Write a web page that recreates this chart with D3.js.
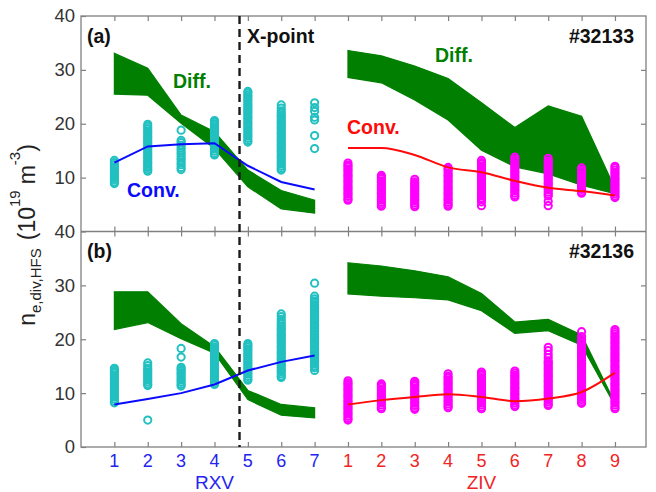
<!DOCTYPE html>
<html>
<head>
<meta charset="utf-8">
<script src="https://cdn.jsdelivr.net/npm/d3@7"></script>
<style>
  body { margin: 0; background: #fff; }
  #chart { width: 656px; height: 492px; }
  text { font-family: "Liberation Sans", Arial, Helvetica, sans-serif; }
</style>
</head>
<body>
<div id="chart"></div>
<script>
// probe names along the divertor
const rxvLabels = ["1", "2", "3", "4", "5", "6", "7"];
const zivLabels = ["1", "2", "3", "4", "5", "6", "7", "8", "9"];
const yTicksA = [10, 20, 30, 40];
const yTicksB = [0, 10, 20, 30, 40];
const xPointPos = 3.75; // X-point sits between RXV 4 and 5

// ---- shot #32133 (a) ----
const rxvDiffHiA = [33.1, 30.3, 21.6, 18.5, 11.4, 7.6, 5.8];
const rxvDiffLoA = [25.5, 25.3, 20.1, 15.4, 8.3, 4.2, 3.4];
const rxvConvA = [12.8, 15.8, 16.2, 16.4, 12.2, 9.2, 7.8];
const zivDiffHiA = [33.6, 32.6, 30.7, 28.4, 23.9, 19.3, 23.3, 21.4, 8.0];
const zivDiffLoA = [28.6, 27.6, 24.4, 20.7, 15.1, 12.0, 10.7, 8.6, 7.0];
const zivConvA = [15.5, 15.5, 14.2, 11.9, 11.0, 9.4, 8.1, 7.5, 6.7];

const rxvProbesA = [
  [8.9, 9.2, 9.6, 9.9, 10.3, 10.6, 11.0, 11.3, 11.7, 12.0, 12.4, 12.8, 13.2],
  [11.2, 11.5, 11.9, 12.2, 12.6, 12.9, 13.3, 13.7, 14.0, 14.4, 14.7, 15.1, 15.5, 15.8, 16.2, 16.5, 16.9, 17.3, 17.6, 18.0, 18.4, 18.7, 19.1, 19.5, 19.9],
  [11.5, 11.9, 12.4, 12.8, 13.3, 13.7, 14.2, 14.6, 15.1, 15.5, 16.0, 16.5, 16.9, 18.8],
  [14.2, 14.5, 14.9, 15.3, 15.6, 16.0, 16.4, 16.7, 17.1, 17.5, 17.8, 18.2, 18.6, 18.9, 19.3, 19.7, 20.0, 20.3, 20.6],
  [16.6, 16.9, 17.3, 17.7, 18.0, 18.4, 18.8, 19.1, 19.5, 19.9, 20.2, 20.6, 21.0, 21.3, 21.7, 22.1, 22.4, 22.8, 23.2, 23.5, 23.9, 24.3, 24.6, 25.0, 25.3, 25.7, 26.0],
  [11.4, 11.7, 12.1, 12.5, 12.8, 13.2, 13.6, 13.9, 14.3, 14.7, 15.0, 15.4, 15.8, 16.1, 16.5, 16.9, 17.2, 17.6, 18.0, 18.3, 18.7, 19.1, 19.4, 19.8, 20.2, 20.5, 20.9, 21.3, 21.6, 22.0, 22.4, 22.9, 23.5],
  [15.4, 17.8, 20.7, 21.2, 22.3, 23.0, 23.9]
];
const zivProbesA = [
  [5.8, 6.1, 6.5, 6.9, 7.2, 7.6, 8.0, 8.3, 8.7, 9.1, 9.4, 9.8, 10.2, 10.5, 10.9, 11.3, 11.6, 12.0, 12.3, 12.7],
  [4.7, 5.0, 5.4, 5.8, 6.1, 6.5, 6.9, 7.2, 7.6, 8.0, 8.3, 8.7, 9.1, 9.4, 9.8, 10.1, 10.4],
  [4.6, 4.9, 5.3, 5.7, 6.0, 6.4, 6.8, 7.1, 7.5, 7.9, 8.2, 8.6, 8.9, 9.2, 9.7],
  [4.7, 5.0, 5.4, 5.8, 6.1, 6.5, 6.9, 7.2, 7.6, 8.0, 8.3, 8.7, 9.1, 9.4, 9.8, 10.2, 10.5, 10.9, 11.3, 11.6, 11.9],
  [4.8, 5.5, 5.9, 6.2, 6.6, 7.0, 7.3, 7.7, 8.1, 8.4, 8.8, 9.2, 9.5, 9.9, 10.3, 10.6, 11.0, 11.4, 11.7, 12.1, 12.5, 12.8, 13.2],
  [6.4, 6.7, 7.1, 7.5, 7.8, 8.2, 8.6, 8.9, 9.3, 9.7, 10.0, 10.4, 10.8, 11.1, 11.5, 11.9, 12.2, 12.6, 13.0, 13.4, 13.8],
  [4.8, 5.6, 6.6, 6.9, 7.3, 7.7, 8.0, 8.4, 8.8, 9.1, 9.5, 9.9, 10.2, 10.6, 11.0, 11.3, 11.7, 12.1, 12.4, 12.8, 13.1, 13.6],
  [7.1, 7.4, 7.8, 8.2, 8.5, 8.9, 9.3, 9.6, 10.0, 10.4, 10.7, 11.1, 11.4, 11.8],
  [6.3, 6.6, 7.0, 7.4, 7.7, 8.1, 8.5, 8.8, 9.2, 9.6, 9.9, 10.3, 10.7, 11.0, 11.4, 11.8, 12.1]
];

// ---- shot #32136 (b) ----
const rxvDiffHiB = [28.8, 28.8, 22.9, 18.6, 10.5, 7.9, 7.3];
const rxvDiffLoB = [21.8, 23.1, 20.1, 17.4, 8.8, 5.9, 5.4];
const rxvConvB = [7.9, 8.9, 10.0, 11.6, 14.2, 15.8, 17.0];
const zivDiffHiB = [34.2, 33.6, 32.7, 31.6, 28.5, 23.2, 23.7, 20.8, 8.2];
const zivDiffLoB = [28.4, 28.0, 27.7, 27.3, 25.3, 21.1, 21.6, 18.9, 7.7];
const zivConvB = [7.9, 8.7, 9.3, 9.8, 9.3, 8.5, 9.0, 10.2, 13.8];

const rxvProbesB = [
  [8.2, 8.5, 8.9, 9.3, 9.6, 10.0, 10.4, 10.7, 11.1, 11.5, 11.8, 12.2, 12.6, 12.9, 13.3, 13.7, 14.0, 14.3, 14.6],
  [5.0, 11.4, 11.7, 12.1, 12.5, 12.8, 13.2, 13.6, 13.9, 14.3, 14.6, 15.1, 15.6],
  [11.3, 11.6, 12.0, 12.4, 12.7, 13.1, 13.5, 13.8, 14.2, 14.5, 14.8, 16.7, 18.3],
  [11.6, 11.9, 12.3, 12.7, 13.0, 13.4, 13.8, 14.1, 14.5, 14.9, 15.2, 15.6, 16.0, 16.3, 16.7, 17.1, 17.4, 17.8, 18.2, 18.5, 18.9, 19.2],
  [12.4, 12.7, 13.1, 13.5, 13.8, 14.2, 14.6, 14.9, 15.3, 15.7, 16.0, 16.4, 16.8, 17.1, 17.5, 17.9, 18.2, 18.6, 18.9, 19.2],
  [12.9, 13.2, 13.6, 14.0, 14.3, 14.7, 15.1, 15.4, 15.8, 16.2, 16.5, 16.9, 17.3, 17.6, 18.0, 18.4, 18.7, 19.1, 19.5, 19.8, 20.2, 20.6, 20.9, 21.3, 21.7, 22.0, 22.4, 22.8, 23.2, 23.7, 24.2, 24.7],
  [14.2, 14.7, 15.0, 15.4, 15.8, 16.1, 16.5, 16.9, 17.2, 17.6, 18.0, 18.3, 18.7, 19.1, 19.4, 19.8, 20.2, 20.5, 20.9, 21.3, 21.6, 22.0, 22.4, 22.7, 23.1, 23.5, 23.8, 24.2, 24.6, 24.9, 25.3, 25.7, 26.0, 26.4, 26.8, 27.1, 27.5, 28.0, 30.4]
];
const zivProbesB = [
  [5.0, 5.3, 5.7, 6.1, 6.4, 6.8, 7.2, 7.5, 7.9, 8.3, 8.6, 9.0, 9.4, 9.7, 10.1, 10.5, 10.8, 11.2, 11.6, 11.9, 12.3],
  [7.1, 7.4, 7.8, 8.2, 8.5, 8.9, 9.3, 9.6, 10.0, 10.4, 10.7, 11.1, 11.4, 11.7],
  [7.0, 7.3, 7.7, 8.1, 8.4, 8.8, 9.2, 9.5, 9.9, 10.3, 10.6, 11.0, 11.4, 11.7, 12.0, 12.2],
  [7.3, 7.6, 8.0, 8.4, 8.7, 9.1, 9.5, 9.8, 10.2, 10.6, 10.9, 11.3, 11.7, 12.0, 12.4, 12.8, 13.1, 13.6],
  [7.1, 7.4, 7.8, 8.2, 8.5, 8.9, 9.3, 9.6, 10.0, 10.4, 10.7, 11.1, 11.5, 11.8, 12.2, 12.6, 12.9, 13.3, 13.6, 13.9],
  [7.5, 7.8, 8.2, 8.6, 8.9, 9.3, 9.7, 10.0, 10.4, 10.8, 11.1, 11.5, 11.9, 12.2, 12.6, 13.0, 13.3, 13.7, 14.1],
  [7.7, 8.0, 8.4, 8.8, 9.1, 9.5, 9.9, 10.2, 10.6, 11.0, 11.3, 11.7, 12.1, 12.4, 12.8, 13.2, 13.5, 13.9, 14.3, 14.6, 15.0, 15.4, 15.7, 16.0, 16.6, 17.2, 17.9, 18.5],
  [8.1, 8.4, 8.8, 9.2, 9.5, 9.9, 10.3, 10.6, 11.0, 11.4, 11.7, 12.1, 12.5, 12.8, 13.2, 13.6, 13.9, 14.3, 14.7, 15.0, 15.4, 15.8, 16.1, 16.5, 16.9, 17.2, 17.6, 18.0, 18.3, 18.7, 19.1, 19.5, 19.9, 20.5, 21.4],
  [7.1, 7.4, 7.8, 8.2, 8.5, 8.9, 9.3, 9.6, 10.0, 10.4, 10.7, 11.1, 11.5, 11.8, 12.2, 12.6, 12.9, 13.3, 13.7, 14.0, 14.4, 14.8, 15.1, 15.5, 15.9, 16.2, 16.6, 17.0, 17.3, 17.7, 18.1, 18.4, 18.8, 19.2, 19.5, 19.9, 20.3, 20.6, 21.0, 21.4, 21.8]
];

const GREEN = "#007f00";
const CYAN = "#22c0c0";
const MAGENTA = "#ff00ff";
const BLUE = "#0a0aff";
const RED = "#ff0a0a";
const FRAME = "#808080";

class DensityPanels {
  constructor(parentElement, panels) {
    this.parentElement = parentElement;
    this.panels = panels;
  }

  initVis() {
    let vis = this;

    vis.left = 81;
    vis.right = 646;
    vis.top = 16;
    vis.bottom = 447;

    vis.svg = d3
      .select("#" + vis.parentElement)
      .append("svg")
      .attr("width", 656)
      .attr("height", 492);

    // one slot per probe, RXV 1..7 then ZIV 1..9
    vis.x = d3.scaleLinear().domain([-1, 15.93]).range([vis.left, vis.right]);
    vis.nSlots = rxvLabels.length + zivLabels.length;

    vis.panels.forEach(function (p) {
      vis.drawPanel(p);
    });

    // outer frame and the seam between the panels
    vis.svg
      .append("rect")
      .attr("x", vis.left)
      .attr("y", vis.top)
      .attr("width", vis.right - vis.left)
      .attr("height", vis.bottom - vis.top)
      .attr("fill", "none")
      .attr("stroke", FRAME)
      .attr("stroke-width", 1.3);

    vis.svg
      .append("line")
      .attr("x1", vis.left)
      .attr("x2", vis.right)
      .attr("y1", vis.panels[0].y(0))
      .attr("y2", vis.panels[0].y(0))
      .attr("stroke", FRAME)
      .attr("stroke-width", 1.3);

    // X-point marker
    vis.svg
      .append("line")
      .attr("x1", vis.x(xPointPos))
      .attr("x2", vis.x(xPointPos))
      .attr("y1", vis.top)
      .attr("y2", vis.bottom)
      .attr("stroke", "#1a1a1a")
      .attr("stroke-width", 2.4)
      .attr("stroke-dasharray", "8,5");

    vis.drawXLabels();
    vis.drawYLabel();
  }

  drawPanel(p) {
    let vis = this;
    let g = vis.svg.append("g").attr("class", "panel");
    let y = p.y;
    let top = y(40);
    let bottom = y(0);

    // frame ticks
    let allSlots = d3.range(vis.nSlots);
    g.append("g")
      .attr("transform", "translate(0," + top + ")")
      .call(d3.axisTop(vis.x).tickValues(allSlots).tickSize(-5).tickFormat(""));
    g.append("g")
      .attr("transform", "translate(0," + bottom + ")")
      .call(d3.axisBottom(vis.x).tickValues(allSlots).tickSize(-5).tickFormat(""));
    g.append("g")
      .attr("class", "y-axis")
      .attr("transform", "translate(" + vis.left + ",0)")
      .call(d3.axisLeft(y).tickValues(p.yTicks).tickSize(-5).tickPadding(6));
    g.append("g")
      .attr("transform", "translate(" + vis.right + ",0)")
      .call(d3.axisRight(y).tickValues([10, 20, 30]).tickSize(-5).tickFormat(""));

    g.selectAll(".domain").remove();
    g.selectAll(".tick line").attr("stroke", FRAME).attr("stroke-width", 1.2);
    g.selectAll(".y-axis text")
      .attr("font-size", "18.5px")
      .attr("font-family", "Liberation Sans, Arial, sans-serif")
      .attr("fill", "#333");

    let groups = [
      { offset: 0, hi: p.rxvHi, lo: p.rxvLo, conv: p.rxvConv, probes: p.rxvProbes, dot: CYAN, line: BLUE, curve: d3.curveLinear },
      { offset: rxvLabels.length, hi: p.zivHi, lo: p.zivLo, conv: p.zivConv, probes: p.zivProbes, dot: MAGENTA, line: RED, curve: d3.curveMonotoneX }
    ];

    groups.forEach(function (s) {
      let band = s.hi.map(function (h, i) {
        return { pos: s.offset + i, hi: h, lo: s.lo[i] };
      });
      let area = d3
        .area()
        .x(function (d) { return vis.x(d.pos); })
        .y0(function (d) { return y(d.lo); })
        .y1(function (d) { return y(d.hi); });

      g.append("path")
        .datum(band)
        .attr("d", area)
        .attr("fill", GREEN)
        .attr("stroke", GREEN)
        .attr("stroke-width", 1.2);

      let dots = [];
      s.probes.forEach(function (vals, i) {
        vals.forEach(function (v) {
          dots.push({ pos: s.offset + i, v: v });
        });
      });

      g.append("g")
        .selectAll("circle")
        .data(dots)
        .enter()
        .append("circle")
        .attr("cx", function (d) { return vis.x(d.pos); })
        .attr("cy", function (d) { return y(d.v); })
        .attr("r", 3.6)
        .attr("fill", "none")
        .attr("stroke", s.dot)
        .attr("stroke-width", 2);

      let conv = s.conv.map(function (c, i) {
        return { pos: s.offset + i, v: c };
      });
      let line = d3
        .line()
        .x(function (d) { return vis.x(d.pos); })
        .y(function (d) { return y(d.v); })
        .curve(s.curve);

      g.append("path")
        .datum(conv)
        .attr("d", line)
        .attr("fill", "none")
        .attr("stroke", s.line)
        .attr("stroke-width", 2);
    });

    p.notes.forEach(function (n) {
      g.append("text")
        .attr("x", n.x)
        .attr("y", n.y)
        .attr("text-anchor", n.anchor || "start")
        .attr("font-size", "19.5px")
        .attr("font-weight", "bold")
        .attr("fill", n.color || "#111")
        .text(n.text);
    });
  }

  drawXLabels() {
    let vis = this;
    let labels = rxvLabels.concat(zivLabels);

    vis.svg
      .append("g")
      .selectAll("text")
      .data(labels)
      .enter()
      .append("text")
      .attr("x", function (d, i) { return vis.x(i); })
      .attr("y", 467)
      .attr("text-anchor", "middle")
      .attr("font-size", "18px")
      .attr("fill", function (d, i) {
        return i < rxvLabels.length ? "#2424f0" : "#f02424";
      })
      .text(function (d) { return d; });

    vis.svg
      .append("text")
      .attr("x", vis.x(3))
      .attr("y", 489)
      .attr("text-anchor", "middle")
      .attr("font-size", "19px")
      .attr("fill", "#2424f0")
      .text("RXV");

    vis.svg
      .append("text")
      .attr("x", vis.x(rxvLabels.length + 4))
      .attr("y", 489)
      .attr("text-anchor", "middle")
      .attr("font-size", "19px")
      .attr("fill", "#f02424")
      .text("ZIV");
  }

  drawYLabel() {
    let vis = this;
    let t = vis.svg
      .append("text")
      .attr("transform", "translate(35,235) rotate(-90)")
      .attr("text-anchor", "middle")
      .attr("fill", "#222");

    t.append("tspan").attr("font-size", "23px").text("n");
    t.append("tspan").attr("font-size", "15px").attr("dy", 6).text("e,div,HFS");
    t.append("tspan").attr("font-size", "23px").attr("dy", -6).attr("dx", 8).text("(10");
    t.append("tspan").attr("font-size", "15px").attr("dy", -15).text("19");
    t.append("tspan").attr("font-size", "23px").attr("dy", 15).attr("dx", 6).text("m");
    t.append("tspan").attr("font-size", "15px").attr("dy", -15).text("-3");
    t.append("tspan").attr("font-size", "23px").attr("dy", 15).text(")");
  }
}

const yA = d3.scaleLinear().domain([0, 40]).range([231.5, 16]);
const yB = d3.scaleLinear().domain([0, 40]).range([447, 231.5]);

const panels = [
  {
    y: yA,
    yTicks: yTicksA,
    rxvHi: rxvDiffHiA, rxvLo: rxvDiffLoA, rxvConv: rxvConvA, rxvProbes: rxvProbesA,
    zivHi: zivDiffHiA, zivLo: zivDiffLoA, zivConv: zivConvA, zivProbes: zivProbesA,
    notes: [
      { text: "(a)", x: 87, y: 42.5 },
      { text: "X-point", x: 247, y: 42.5 },
      { text: "#32133", x: 634, y: 42.5, anchor: "end" },
      { text: "Diff.", x: 173, y: 88, color: GREEN },
      { text: "Conv.", x: 127, y: 197, color: BLUE },
      { text: "Diff.", x: 435, y: 62, color: GREEN },
      { text: "Conv.", x: 347, y: 134, color: RED }
    ]
  },
  {
    y: yB,
    yTicks: yTicksB,
    rxvHi: rxvDiffHiB, rxvLo: rxvDiffLoB, rxvConv: rxvConvB, rxvProbes: rxvProbesB,
    zivHi: zivDiffHiB, zivLo: zivDiffLoB, zivConv: zivConvB, zivProbes: zivProbesB,
    notes: [
      { text: "(b)", x: 87, y: 257.5 },
      { text: "#32136", x: 634, y: 257.5, anchor: "end" }
    ]
  }
];

const chart = new DensityPanels("chart", panels);
chart.initVis();
</script>
</body>
</html>
